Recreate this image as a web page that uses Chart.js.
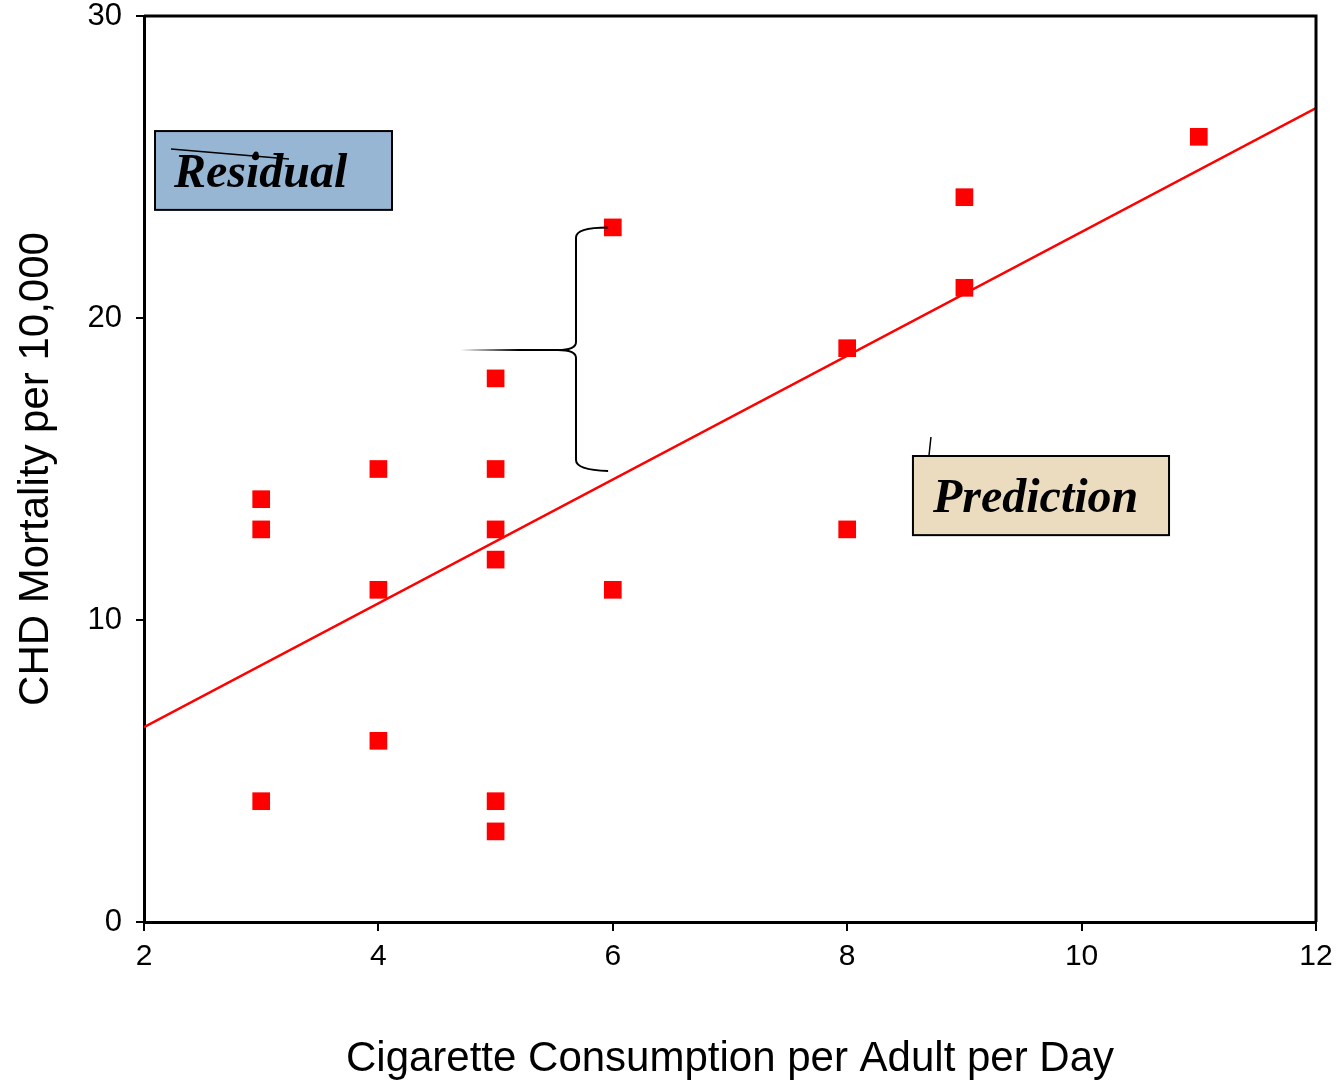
<!DOCTYPE html>
<html lang="en">
<head>
    <meta charset="UTF-8" />
    <title>CHD Mortality vs Cigarette Consumption</title>
    <script src="https://cdn.jsdelivr.net/npm/chart.js"></script>
    <style>
        html, body { margin: 0; padding: 0; background: #fff; }
        .graph { position: relative; width: 1341px; height: 1091px; }
    </style>
</head>
<body>
    <div class="graph">
        <canvas id="myChart" width="1341" height="1091"></canvas>
    </div>

<script>
    // dados
    const cigarros = [3, 3, 3, 4, 4, 4, 5, 5, 5, 5, 5, 5, 6, 6, 8, 8, 9, 9, 11];
    const mortalidade = [14, 13, 4, 15, 11, 6, 18, 15, 13, 12, 4, 3, 23, 11, 19, 13, 24, 21, 26];

    // reta de regressao (extremos do eixo x)
    const retaX = [2, 12];
    const retaY = [6.45, 26.95];

    const xTicks = [2, 4, 6, 8, 10, 12];
    const yTicks = [0, 10, 20, 30];

    const fonteEixo = '"Liberation Sans", Arial, sans-serif';
    const fonteCaixa = '"Liberation Serif", "Times New Roman", serif';

    let pontos = cigarros.map((c, i) => ({ x: c, y: mortalidade[i] }));
    let reta = retaX.map((x, i) => ({ x: x, y: retaY[i] }));

    // moldura + caixas de texto + chave
    const decoracao = {
        id: 'decoracao',
        afterDraw(chart) {
            const ctx = chart.ctx;
            const a = chart.chartArea;
            const sx = chart.scales.x, sy = chart.scales.y;
            const px = v => sx.getPixelForValue(v);
            const py = v => sy.getPixelForValue(v);

            ctx.save();
            // moldura de cima e da direita
            ctx.strokeStyle = '#000';
            ctx.lineWidth = 3;
            ctx.beginPath();
            ctx.moveTo(a.left, a.top);
            ctx.lineTo(a.right, a.top);
            ctx.lineTo(a.right, a.bottom);
            ctx.stroke();

            // caixa "Residual"
            let x1 = px(2.094), x2 = px(4.116), y1 = py(26.19), y2 = py(23.58);
            ctx.fillStyle = '#96b6d4';
            ctx.fillRect(x1, y1, x2 - x1, y2 - y1);
            ctx.lineWidth = 2;
            ctx.strokeRect(x1, y1, x2 - x1, y2 - y1);
            ctx.fillStyle = '#000';
            ctx.font = 'bold italic 48px ' + fonteCaixa;
            ctx.textBaseline = 'alphabetic';
            ctx.fillText('Residual', x1 + 19, y1 + 56);
            // risquinho em cima do texto
            ctx.lineWidth = 1.5;
            ctx.beginPath();
            ctx.moveTo(x1 + 16, y1 + 18);
            ctx.lineTo(x1 + 134, y1 + 28);
            ctx.stroke();
            ctx.beginPath();
            ctx.arc(x1 + 101, y1 + 23, 2.5, 0, Math.PI * 2);
            ctx.fill();

            // caixa "Prediction"
            x1 = px(8.561); x2 = px(10.746); y1 = py(15.43); y2 = py(12.81);
            ctx.fillStyle = '#ebdcc0';
            ctx.fillRect(x1, y1, x2 - x1, y2 - y1);
            ctx.lineWidth = 2;
            ctx.strokeRect(x1, y1, x2 - x1, y2 - y1);
            ctx.fillStyle = '#000';
            ctx.fillText('Prediction', x1 + 20, y1 + 56);
            ctx.lineWidth = 1.5;
            ctx.beginPath();
            ctx.moveTo(x1 + 18, y1 - 19);
            ctx.lineTo(x1 + 16, y1);
            ctx.stroke();

            // chave do residuo
            const bx = px(5.686), dir = px(5.96);
            const topo = py(23.0), ponta = py(18.94), base = py(14.97);
            ctx.lineWidth = 2;
            ctx.beginPath();
            ctx.moveTo(dir, topo);
            ctx.quadraticCurveTo(bx, topo, bx, topo + 10);
            ctx.lineTo(bx, ponta - 8);
            ctx.quadraticCurveTo(bx, ponta, bx - 18, ponta);
            ctx.quadraticCurveTo(bx, ponta, bx, ponta + 8);
            ctx.lineTo(bx, base - 10);
            ctx.quadraticCurveTo(bx, base, dir, base + 1);
            ctx.stroke();
            const esq = px(4.696);
            const grad = ctx.createLinearGradient(esq, 0, bx - 18, 0);
            grad.addColorStop(0, 'rgba(0,0,0,0)');
            grad.addColorStop(0.6, 'rgba(0,0,0,1)');
            ctx.strokeStyle = grad;
            ctx.beginPath();
            ctx.moveTo(esq, ponta);
            ctx.lineTo(bx - 18, ponta);
            ctx.stroke();
            ctx.restore();
        }
    };

    const config = {
        type: 'scatter',
        data: {
            datasets: [{
                label: 'CHD',
                data: pontos,
                pointStyle: 'rect',
                pointRadius: 12.5,
                pointHoverRadius: 12.5,
                backgroundColor: '#ff0000',
                borderColor: '#ff0000',
                borderWidth: 0
            }, {
                label: 'reta',
                type: 'line',
                data: reta,
                borderColor: '#ff0000',
                borderWidth: 2.5,
                pointRadius: 0,
                fill: false,
                tension: 0
            }]
        },
        options: {
            responsive: false,
            animation: false,
            layout: { padding: { top: 16, right: 25, left: 0, bottom: 0 } },
            plugins: {
                legend: { display: false },
                tooltip: { enabled: false }
            },
            scales: {
                x: {
                    type: 'linear',
                    min: 2,
                    max: 12,
                    afterBuildTicks: s => { s.ticks = xTicks.map(v => ({ value: v })); },
                    afterFit: s => { s.height = 169; },
                    border: { display: true, color: '#000', width: 3 },
                    grid: { drawOnChartArea: false, drawTicks: true, tickLength: 9, color: '#000', lineWidth: 2 },
                    ticks: { color: '#000', font: { family: fonteEixo, size: 30 }, padding: 8, maxRotation: 0 },
                    title: {
                        display: true,
                        text: 'Cigarette Consumption per Adult per Day',
                        color: '#000',
                        font: { family: fonteEixo, size: 42 },
                        padding: { top: 0, bottom: 6 }
                    }
                },
                y: {
                    min: 0,
                    max: 30,
                    afterBuildTicks: s => { s.ticks = yTicks.map(v => ({ value: v })); },
                    // largura fixa e sem folga extra em cima
                    afterFit: s => { s.width = 144; s.paddingTop = 0; s.paddingBottom = 0; },
                    border: { display: true, color: '#000', width: 3 },
                    grid: { drawOnChartArea: false, drawTicks: true, tickLength: 8, color: '#000', lineWidth: 2 },
                    ticks: { color: '#000', font: { family: fonteEixo, size: 31 }, padding: 14 },
                    title: {
                        display: true,
                        text: 'CHD Mortality per 10,000',
                        color: '#000',
                        font: { family: fonteEixo, size: 42 },
                        padding: { top: 11, bottom: 0 }
                    }
                }
            }
        },
        plugins: [decoracao]
    };

    let myChart = new Chart(document.getElementById('myChart'), config);
</script>
</body>
</html>
